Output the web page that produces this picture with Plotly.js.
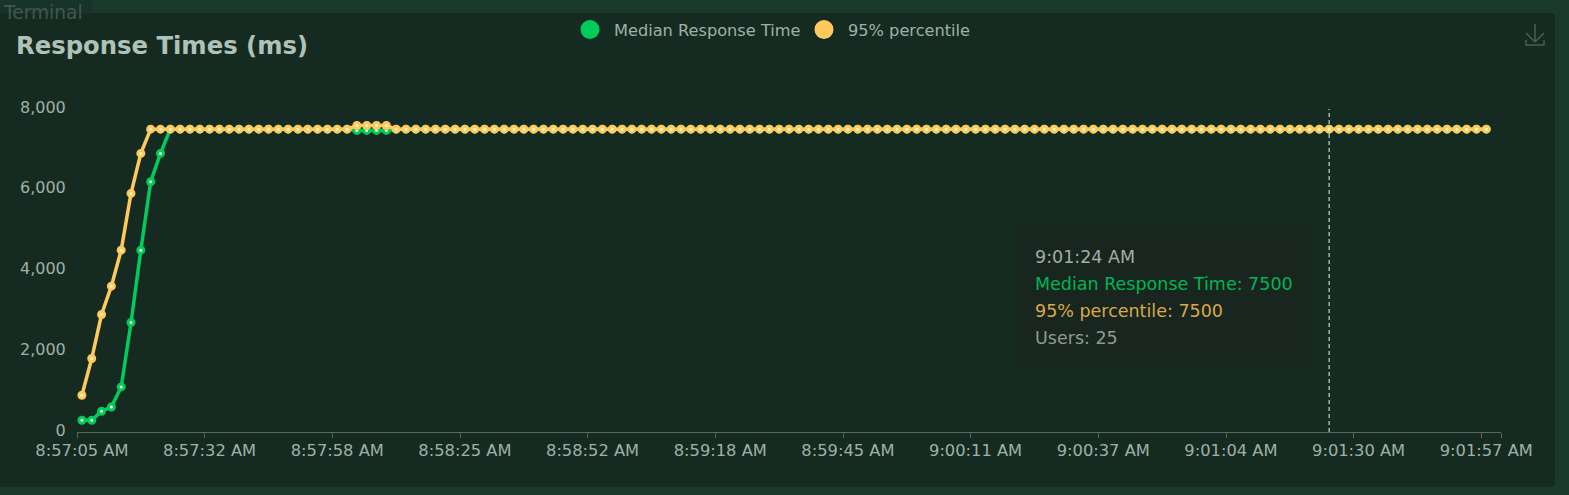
<!DOCTYPE html>
<html>
<head>
<meta charset="utf-8">
<script src="https://cdn.plot.ly/plotly-3.0.1.min.js"></script>
<style>
  html, body { margin: 0; padding: 0; background: #1a382c; overflow: hidden; }
  #panel { position: absolute; left: 0; top: 13px; width: 1555px; height: 474px; background: #152b22; border-radius: 0 4px 4px 0; }
  #tab { position: absolute; left: 0; top: 0; width: 92px; height: 13px; background: #18342a; }
  #chart { position: absolute; left: 0; top: 0; width: 1569px; height: 495px; }
</style>
</head>
<body>
<div id="panel"></div>
<div id="tab"></div>
<div id="chart"></div>
<script>
// one sample roughly every 2 seconds, labels land on every 13th one
var times = [
  "8:57:05 AM","8:57:07 AM","8:57:09 AM","8:57:11 AM","8:57:13 AM","8:57:15 AM","8:57:17 AM","8:57:19 AM","8:57:21 AM","8:57:23 AM","8:57:25 AM","8:57:27 AM","8:57:29 AM",
  "8:57:32 AM","8:57:34 AM","8:57:36 AM","8:57:38 AM","8:57:40 AM","8:57:42 AM","8:57:44 AM","8:57:46 AM","8:57:48 AM","8:57:50 AM","8:57:52 AM","8:57:54 AM","8:57:56 AM",
  "8:57:58 AM","8:58:00 AM","8:58:02 AM","8:58:04 AM","8:58:06 AM","8:58:08 AM","8:58:10 AM","8:58:12 AM","8:58:14 AM","8:58:16 AM","8:58:18 AM","8:58:20 AM","8:58:22 AM",
  "8:58:25 AM","8:58:27 AM","8:58:29 AM","8:58:31 AM","8:58:33 AM","8:58:35 AM","8:58:37 AM","8:58:39 AM","8:58:41 AM","8:58:43 AM","8:58:45 AM","8:58:47 AM","8:58:49 AM",
  "8:58:52 AM","8:58:54 AM","8:58:56 AM","8:58:58 AM","8:59:00 AM","8:59:02 AM","8:59:04 AM","8:59:06 AM","8:59:08 AM","8:59:10 AM","8:59:12 AM","8:59:14 AM","8:59:16 AM",
  "8:59:18 AM","8:59:20 AM","8:59:22 AM","8:59:24 AM","8:59:26 AM","8:59:28 AM","8:59:30 AM","8:59:32 AM","8:59:34 AM","8:59:36 AM","8:59:38 AM","8:59:40 AM","8:59:42 AM",
  "8:59:45 AM","8:59:47 AM","8:59:49 AM","8:59:51 AM","8:59:53 AM","8:59:55 AM","8:59:57 AM","8:59:59 AM","9:00:01 AM","9:00:03 AM","9:00:05 AM","9:00:07 AM","9:00:09 AM",
  "9:00:11 AM","9:00:13 AM","9:00:15 AM","9:00:17 AM","9:00:19 AM","9:00:21 AM","9:00:23 AM","9:00:25 AM","9:00:27 AM","9:00:29 AM","9:00:31 AM","9:00:33 AM","9:00:35 AM",
  "9:00:37 AM","9:00:39 AM","9:00:41 AM","9:00:43 AM","9:00:45 AM","9:00:47 AM","9:00:49 AM","9:00:51 AM","9:00:53 AM","9:00:55 AM","9:00:57 AM","9:00:59 AM","9:01:01 AM",
  "9:01:04 AM","9:01:06 AM","9:01:08 AM","9:01:10 AM","9:01:12 AM","9:01:14 AM","9:01:16 AM","9:01:18 AM","9:01:20 AM","9:01:22 AM","9:01:24 AM","9:01:26 AM","9:01:28 AM",
  "9:01:30 AM","9:01:32 AM","9:01:34 AM","9:01:36 AM","9:01:38 AM","9:01:40 AM","9:01:42 AM","9:01:44 AM","9:01:46 AM","9:01:48 AM","9:01:50 AM","9:01:52 AM","9:01:54 AM",
  "9:01:57 AM"
];
var median = [
  290,290,513,620,1116,2712,4504,6198,6900,7500,7500,7500,7500,
  7500,7500,7500,7500,7500,7500,7500,7500,7500,7500,7500,7500,7500,
  7500,7500,7470,7470,7470,7470,7500,7500,7500,7500,7500,7500,7500,
  7500,7500,7500,7500,7500,7500,7500,7500,7500,7500,7500,7500,7500,
  7500,7500,7500,7500,7500,7500,7500,7500,7500,7500,7500,7500,7500,
  7500,7500,7500,7500,7500,7500,7500,7500,7500,7500,7500,7500,7500,
  7500,7500,7500,7500,7500,7500,7500,7500,7500,7500,7500,7500,7500,
  7500,7500,7500,7500,7500,7500,7500,7500,7500,7500,7500,7500,7500,
  7500,7500,7500,7500,7500,7500,7500,7500,7500,7500,7500,7500,7500,
  7500,7500,7500,7500,7500,7500,7500,7500,7500,7500,7500,7500,7500,
  7500,7500,7500,7500,7500,7500,7500,7500,7500,7500,7500,7500,7500,
  7500
];
var p95 = [
  910,1820,2910,3612,4504,5910,6900,7500,7500,7500,7500,7500,7500,
  7500,7500,7500,7500,7500,7500,7500,7500,7500,7500,7500,7500,7500,
  7500,7500,7590,7590,7590,7590,7500,7500,7500,7500,7500,7500,7500,
  7500,7500,7500,7500,7500,7500,7500,7500,7500,7500,7500,7500,7500,
  7500,7500,7500,7500,7500,7500,7500,7500,7500,7500,7500,7500,7500,
  7500,7500,7500,7500,7500,7500,7500,7500,7500,7500,7500,7500,7500,
  7500,7500,7500,7500,7500,7500,7500,7500,7500,7500,7500,7500,7500,
  7500,7500,7500,7500,7500,7500,7500,7500,7500,7500,7500,7500,7500,
  7500,7500,7500,7500,7500,7500,7500,7500,7500,7500,7500,7500,7500,
  7500,7500,7500,7500,7500,7500,7500,7500,7500,7500,7500,7500,7500,
  7500,7500,7500,7500,7500,7500,7500,7500,7500,7500,7500,7500,7500,
  7500
];
var yTicks = [0, 2000, 4000, 6000, 8000];
var labelTimes = times.filter(function (t, i) { return i % 13 === 0; });
// band edges for the little tick marks, they sit half a step left of each label
var bandEdges = [-0.5, 12.5, 25.5, 38.5, 51.5, 64.5, 77.5, 90.5, 103.5, 116.5, 129.5, 142.5, 144.5];
var hoverTime = "9:01:24 AM";

var fontName = "DejaVu Sans";
var green = "#00cc5c";
var yellow = "#ffc95c";
var textColor = "#a0b0a8";
var axisColor = "#59685f";

// pixel position on the page -> paper coordinates
function px(x) { return (x - 77.3) / 1423.7; }
function py(y) { return (431.7 - y) / 322.7; }

function seriesTrace(name, values, color) {
  return {
    x: times, y: values, name: name, type: "scatter", mode: "lines+markers",
    showlegend: false, cliponaxis: false,
    line: {color: color, width: 3.5},
    marker: {size: 6, color: "#fff6dc", line: {color: color, width: 3}}
  };
}
function legendTrace(name, color) {
  return {
    x: [null], y: [null], name: name, type: "scatter", mode: "markers",
    marker: {size: 16, color: color, line: {color: color, width: 3}}
  };
}
function tooltipLine(text, color, y) {
  return {
    xref: "paper", yref: "paper", x: px(1033), y: py(y),
    xanchor: "left", yanchor: "middle", showarrow: false, text: text,
    font: {family: fontName, size: 17.5, color: color}
  };
}
function roundedBox(x0, y0, x1, y1, r) {
  return "M " + px(x0 + r) + " " + py(y0) +
    " L " + px(x1 - r) + " " + py(y0) + " Q " + px(x1) + " " + py(y0) + " " + px(x1) + " " + py(y0 + r) +
    " L " + px(x1) + " " + py(y1 - r) + " Q " + px(x1) + " " + py(y1) + " " + px(x1 - r) + " " + py(y1) +
    " L " + px(x0 + r) + " " + py(y1) + " Q " + px(x0) + " " + py(y1) + " " + px(x0) + " " + py(y1 - r) +
    " L " + px(x0) + " " + py(y0 + r) + " Q " + px(x0) + " " + py(y0) + " " + px(x0 + r) + " " + py(y0) + " Z";
}

var data = [
  seriesTrace("Median Response Time", median, green),
  seriesTrace("95% percentile", p95, yellow),
  legendTrace("Median Response Time", green),
  legendTrace("95% percentile", yellow),
  // empty, only here so the tick-mark axis gets drawn
  {x: [], y: [], xaxis: "x2", showlegend: false, type: "scatter", mode: "lines"}
];

var layout = {
  width: 1569, height: 495,
  margin: {l: 77.3, r: 68, t: 109, b: 63.3, pad: 0},
  paper_bgcolor: "rgba(0,0,0,0)", plot_bgcolor: "rgba(0,0,0,0)",
  font: {family: fontName, size: 16, color: textColor},
  title: {
    text: "<b>Response Times (ms)</b>",
    x: 16 / 1569, xanchor: "left", xref: "container",
    y: 1 - 45 / 495, yanchor: "middle", yref: "container",
    font: {family: fontName, size: 24.3, color: "#b0c1b8"}
  },
  showlegend: true,
  legend: {
    orientation: "h", x: 566 / 1569, xref: "container", xanchor: "left",
    y: 1 - 30 / 495, yref: "container", yanchor: "middle",
    bgcolor: "rgba(0,0,0,0)", font: {family: fontName, size: 16.2, color: textColor},
    itemsizing: "trace", itemwidth: 38, entrywidth: 181, entrywidthmode: "pixels"
  },
  xaxis: {
    type: "category", categoryorder: "array", categoryarray: times,
    range: [-0.5, 144.5], tickmode: "array", tickvals: labelTimes, ticktext: labelTimes,
    ticks: "", ticklabelstandoff: 3, showgrid: false, zeroline: false,
    showline: true, linecolor: axisColor, linewidth: 1,
    tickfont: {family: fontName, size: 16.3, color: textColor}
  },
  xaxis2: {
    overlaying: "x", anchor: "y", side: "bottom", type: "linear",
    range: [-0.5, 144.5], tickmode: "array", tickvals: bandEdges,
    ticktext: bandEdges.map(function () { return ""; }),
    ticks: "outside", ticklen: 5, tickcolor: axisColor, showgrid: false, zeroline: false
  },
  yaxis: {
    range: [0, 8000], tickmode: "array", tickvals: yTicks, tickformat: ",",
    ticks: "outside", ticklen: 7, tickcolor: "rgba(0,0,0,0)", ticklabelshift: -2,
    showgrid: false, zeroline: false, showline: false,
    tickfont: {family: fontName, size: 16, color: textColor}
  },
  shapes: [
    // hover crosshair
    {type: "line", xref: "x", yref: "paper", x0: hoverTime, x1: hoverTime, y0: 0, y1: 1,
     line: {color: "#f0f4f2", width: 1, dash: "4px,3px"}},
    // tooltip box with a soft edge
    {type: "path", xref: "paper", yref: "paper", layer: "above", fillcolor: "#18261f", opacity: 0.4, line: {width: 0},
     path: roundedBox(1016, 224, 1312, 368, 8)},
    {type: "path", xref: "paper", yref: "paper", layer: "above", fillcolor: "#18261f", line: {width: 0},
     path: roundedBox(1020, 228, 1308, 364, 6)},
    // download icon
    {type: "path", xref: "paper", yref: "paper", line: {color: "#4a5d55", width: 1.5},
     path: "M " + px(1535) + " " + py(24) + " L " + px(1535) + " " + py(42) +
           " M " + px(1526) + " " + py(33) + " L " + px(1535) + " " + py(42) + " L " + px(1544) + " " + py(33) +
           " M " + px(1526) + " " + py(40) + " L " + px(1526) + " " + py(45) + " L " + px(1544) + " " + py(45) + " L " + px(1544) + " " + py(40)}
  ],
  annotations: [
    tooltipLine(hoverTime, "#a0aea7", 257),
    tooltipLine("Median Response Time: 7500", "#00b552", 284),
    tooltipLine("95% percentile: 7500", "#d9a94c", 311),
    tooltipLine("Users: 25", "#8d9b94", 338),
    {xref: "paper", yref: "paper", x: px(1), y: py(13),
     xanchor: "left", yanchor: "middle", showarrow: false, text: "Terminal",
     font: {family: fontName, size: 18.6, color: "#42564d"}}
  ]
};

Plotly.newPlot("chart", data, layout, {displayModeBar: false, responsive: false});
</script>
</body>
</html>
